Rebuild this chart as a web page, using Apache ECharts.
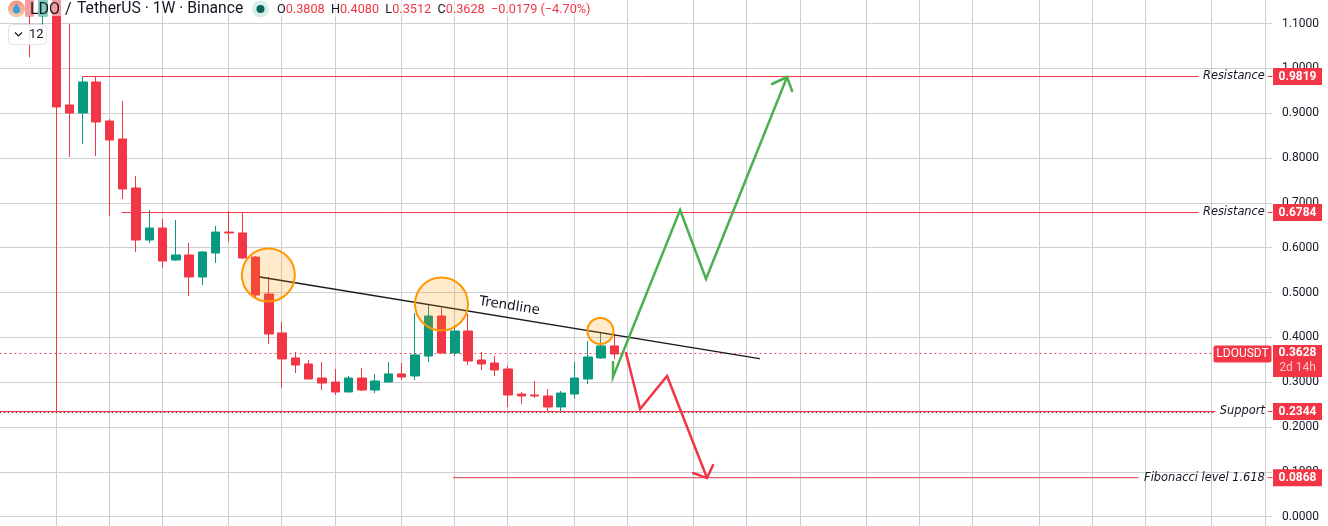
<!DOCTYPE html>
<html><head><meta charset="utf-8">
<style>html,body{margin:0;padding:0;background:#fff}#c{width:1328px;height:526px}</style>
<script src="https://cdn.jsdelivr.net/npm/echarts@6/dist/echarts.min.js"></script>
</head><body><div id="c"></div>
<script>
const weeks = [2,3,4,5,6,7,8,9,10,11,12,13,14,15,16,17,18,19,20,21,22,23,24,25,26,27,28,29,30,31,32,33,34,35,36,37,38,39,40,41,42,43,44,45,46];
const opens = [1.30,1.117,1.27,.9184,.9005,.9697,.8826,.8425,.7332,.6171,.6439,.5725,.5837,.5346,.5881,.6349,.6328,.5791,.4966,.4098,.354,.3405,.3092,.3003,.278,.3092,.2824,.3003,.3183,.3137,.3583,.4476,.365,.4141,.3494,.3427,.3294,.2735,.2713,.2691,.2446,.2735,.307,.354,.3808];
const closes = [1.117,1.27,.914,.9005,.9697,.8804,.8403,.731,.6171,.6439,.5703,.5837,.5346,.5904,.6349,.6328,.577,.4944,.4074,.3517,.3382,.307,.298,.278,.3092,.2824,.3026,.3183,.3115,.3606,.4476,.365,.4141,.3472,.3405,.3271,.2713,.2691,.2691,.2446,.2757,.3092,.3561,.3808,.3628];
const lows = [1.025,1.079,.2357,.8024,.8314,.8046,.671,.7086,.5904,.6104,.5546,.5703,.4922,.5167,.5659,.6126,.5744,.4877,.3851,.287,.3204,.307,.2824,.2713,.278,.2802,.2757,.3003,.3048,.3048,.345,.365,.3583,.3382,.3271,.3137,.2446,.2512,.2646,.2357,.2357,.2624,.2959,.3517,.3512];
const highs = [1.35,1.30,1.30,1.099,.9819,.9819,.887,.9273,.7599,.6841,.6641,.6617,.6104,.5924,.6484,.6819,.6784,.5815,.5346,.4342,.3673,.3494,.345,.3293,.3137,.3315,.3183,.345,.3428,.4543,.4721,.4655,.4275,.4521,.3673,.3583,.3361,.278,.3026,.2847,.2802,.345,.3918,.4121,.408];

const monthLines = [4,8,12,17,21,25,30,34,38,43,47,52,56,60,65,69,73,78,82,86,91,95];
const levelNames = ['Resistance','Resistance','Support','Fibonacci level 1.618'];
const levelPrices = [.9819,.6784,.2344,.0868];
const levelStarts = [6,8.95,-.2375,33.88];
const levelEnds = [89.95,89.95,91.23,85.44];
const lastPrice = .3628;
const lastPriceLine = .3639;
const trendline = [[19.33,.5346],[56.92,.3523]];
const bullPath = [[45.9,.345],[45.9,.3115],[50.95,.6841],[52.9,.5301],[59.0,.9808]];
const bullHead = [[57.87,.9652],[59.0,.9808],[59.38,.9495]];
const bearPath = [[46.88,.365],[47.94,.2401],[49.97,.3137],[52.98,.086]];
const bearHead = [[51.93,.0973],[52.98,.086],[53.43,.1151]];
const circles = [[19.96,.539,53],[32.99,.4743,53],[44.95,.4141,26]];

const RED='#F23645', GREEN='#089981', GRID='#cfcfd2', TXT='#131722';
const XMIN=-.2375, XMAX=95.5, SCALE=448.2, ZERO=516.6;
const HALF_PX=.0376;
const font='Roboto, sans-serif', noteFont='"DejaVu Sans", sans-serif';

function line(data,color,width,type,z){
  return {type:'line',data,symbol:'none',silent:true,animation:false,z:z||4,
    lineStyle:{color,width,type:type||'solid',cap:'round',join:'miter'}};
}
const hidden={color:'transparent',opacity:1};
const series=[];
series.push({type:'candlestick',barWidth:9,animation:false,z:3,silent:true,
  data:weeks.map((w,i)=>[w,opens[i],closes[i],lows[i],highs[i]]),
  itemStyle:{color:GREEN,color0:RED,borderColor:GREEN,borderColor0:RED,borderWidth:1}});
series.push(line([[XMIN,lastPriceLine],[91,lastPriceLine]],RED,1,[1,4],2));
levelPrices.forEach((p,i)=>{
  series.push(line([[levelStarts[i],p],[levelEnds[i],p]],i===3?'#d8404c':RED,1));
  series.push(line([[95.2,p],[XMAX,p]],RED,1));
});
series.push(line([[XMIN,.2322],[91.23,.2322]],'#8a3a40',1,[1,3],4));
series.push(line(trendline,'#1a1a1a',1.3,'solid',5));
series.push(line(bullPath,'#4caf50',2.5,'solid',6));
series.push(line(bullHead,'#4caf50',2.5,'solid',6));
series.push(line(bearPath,RED,2.5,'solid',6));
series.push(line(bearHead,RED,2.5,'solid',6));
series.push({type:'scatter',silent:true,animation:false,z:5,
  data:circles.map(c=>[c[0],c[1]]),
  symbolSize:(v,p)=>circles[p.dataIndex][2],
  itemStyle:{color:'rgba(255,152,0,0.2)',borderColor:'#ff9800',borderWidth:2,opacity:1}});
series.push({type:'scatter',silent:true,animation:false,z:7,symbolSize:1,
  data:[[38.1,.4699]],itemStyle:hidden,
  label:{show:true,position:'inside',rotate:-9,formatter:'Trendline',color:TXT,fontFamily:noteFont,fontSize:13.5}});
series.push({type:'scatter',silent:true,animation:false,z:7,symbolSize:1,
  data:levelPrices.map(p=>[95.0,p]),itemStyle:hidden,
  label:{show:true,position:'left',distance:0,fontFamily:noteFont,fontStyle:'italic',fontSize:11.4,color:TXT,
    formatter:p=>levelNames[p.dataIndex]}});
series.push({type:'scatter',silent:true,animation:false,z:8,symbolSize:1,
  data:levelPrices.map(p=>[XMAX,p]),itemStyle:hidden,
  label:{show:true,position:'right',distance:0.5,backgroundColor:RED,
    formatter:p=>'{a|'+levelPrices[p.dataIndex].toFixed(4)+'}',
    rich:{a:{width:49,height:17,lineHeight:17,align:'center',fontFamily:font,fontWeight:'bold',fontSize:12,color:'#fff'}}}});
series.push({type:'scatter',silent:true,animation:false,z:8,symbolSize:1,
  data:[[XMAX,lastPrice]],itemStyle:hidden,
  label:{show:true,position:'right',distance:0.5,offset:[0,7],backgroundColor:RED,padding:[1,0,1,0],
    formatter:'{a|'+lastPrice.toFixed(4)+'}\n{t|2d 14h}',
    rich:{a:{width:49,lineHeight:15,align:'center',fontFamily:font,fontWeight:'bold',fontSize:12,color:'#fff'},
          t:{width:49,lineHeight:15,align:'center',fontFamily:font,fontSize:12,color:'#ffc4c9'}}}});
series.push({type:'scatter',silent:true,animation:false,z:8,symbolSize:1,
  data:[[XMAX,lastPrice]],itemStyle:hidden,
  label:{show:true,position:'left',distance:0,backgroundColor:RED,borderRadius:2,
    formatter:'{a|LDOUSDT}',
    rich:{a:{width:58,height:17,lineHeight:17,align:'center',fontFamily:font,fontSize:12,color:'#fff'}}}});

const chart=echarts.init(document.getElementById('c'),null,{renderer:'canvas'});
chart.setOption({
  animation:false,backgroundColor:'#fff',
  grid:{left:0,width:1272,top:ZERO-1.2*SCALE,height:1.3*SCALE,containLabel:false,outerBoundsMode:'none'},
  xAxis:{type:'value',min:XMIN,max:XMAX,axisLine:{show:false},axisLabel:{show:false},
    axisTick:{show:false,customValues:monthLines.map(m=>m-HALF_PX)},
    splitLine:{show:true,lineStyle:{color:GRID,width:1}}},
  yAxis:{type:'value',position:'right',min:-.1,max:1.2,interval:.1,
    axisLine:{show:false},axisTick:{show:false},
    axisLabel:{margin:10,color:TXT,fontFamily:font,fontSize:12,formatter:v=>v.toFixed(4)},
    splitLine:{show:true,lineStyle:{color:GRID,width:1}}},
  series,
  graphic:[
    {type:'rect',z:50,silent:true,shape:{x:0,y:0,width:600,height:16},style:{fill:'rgba(255,255,255,0.5)'}},
    {type:'circle',z:51,silent:true,shape:{cx:16.5,cy:9,r:8.5},style:{fill:{type:'linear',x:0,y:0,x2:0,y2:1,colorStops:[{offset:0,color:'#ef8f7c'},{offset:1,color:'#f7d3ac'}]}}},
    {type:'circle',z:52,silent:true,shape:{cx:16.5,cy:10,r:3.5},style:{fill:'#3aa0dc'}},
    {type:'polygon',z:52,silent:true,shape:{points:[[16.5,3.5],[13.5,8],[19.5,8]]},style:{fill:'#3aa0dc'}},
    {type:'text',z:51,silent:true,x:30,y:9.5,style:{text:'LDO',fill:TXT,font:'16px Roboto, sans-serif',verticalAlign:'middle'}},
    {type:'text',z:51,silent:true,x:65,y:9.5,style:{text:'/',fill:TXT,font:'16px Roboto, sans-serif',verticalAlign:'middle'}},
    {type:'text',z:51,silent:true,x:77,y:9.5,style:{text:'TetherUS · 1W · Binance',fill:TXT,font:'15.7px Roboto, sans-serif',verticalAlign:'middle'}},
    {type:'circle',z:51,silent:true,shape:{cx:260.5,cy:9,r:8.5},style:{fill:'rgba(8,153,129,0.16)'}},
    {type:'circle',z:52,silent:true,shape:{cx:260.5,cy:9,r:4},style:{fill:'#056656'}},
    {type:'text',z:51,silent:true,x:277,y:9.5,style:{
      text:'{k|O}{v|0.3808}  {k|H}{v|0.4080}  {k|L}{v|0.3512}  {k|C}{v|0.3628}  {v|−0.0179 (−4.70%)}',
      verticalAlign:'middle',font:'12.7px Roboto, sans-serif',
      rich:{k:{fill:TXT,font:'12.7px Roboto, sans-serif'},v:{fill:RED,font:'12.7px Roboto, sans-serif'}}}},
    {type:'rect',z:51,silent:true,shape:{x:8.5,y:24.5,width:38,height:20,r:4},style:{fill:'rgba(255,255,255,0.85)',stroke:'#e0e3eb',lineWidth:1}},
    {type:'polyline',z:52,silent:true,shape:{points:[[15,32.5],[18.5,36],[22,32.5]]},style:{fill:'none',stroke:TXT,lineWidth:1.2}},
    {type:'text',z:52,silent:true,x:29,y:35,style:{text:'12',fill:TXT,font:'13px Roboto, sans-serif',verticalAlign:'middle'}}
  ]
});
</script></body></html>
